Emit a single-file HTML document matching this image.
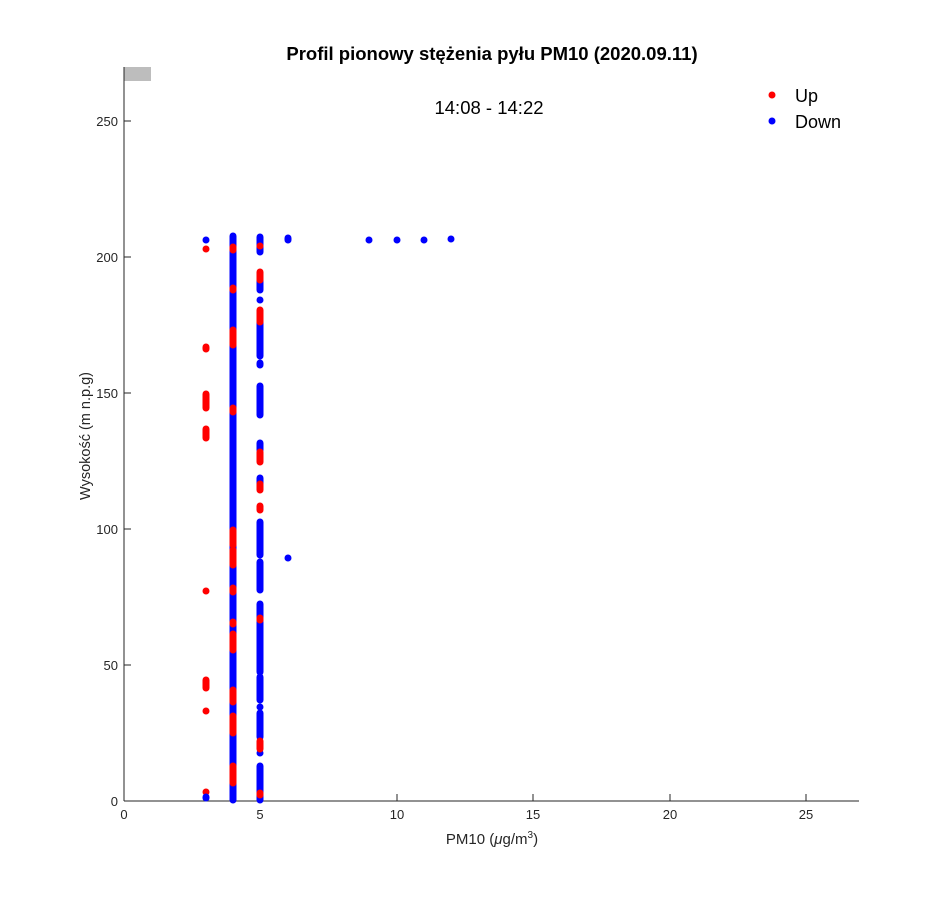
<!DOCTYPE html>
<html><head><meta charset="utf-8"><style>
body{margin:0;background:#fff;}
svg{display:block;font-family:"Liberation Sans",sans-serif;}
</style></head><body>
<svg width="950" height="900" viewBox="0 0 950 900" xmlns="http://www.w3.org/2000/svg">
<rect width="950" height="900" fill="#fff"/>
<rect x="124" y="67" width="27" height="14" fill="#bdbdbd"/>
<g stroke="#262626" stroke-width="1" fill="none">
<line x1="124" y1="67" x2="124" y2="801"/>
<line x1="124" y1="801" x2="859" y2="801"/>
<line x1="124" y1="121" x2="131" y2="121"/>
<line x1="124" y1="257" x2="131" y2="257"/>
<line x1="124" y1="393" x2="131" y2="393"/>
<line x1="124" y1="529" x2="131" y2="529"/>
<line x1="124" y1="665" x2="131" y2="665"/>
<line x1="260" y1="801" x2="260" y2="794"/>
<line x1="397" y1="801" x2="397" y2="794"/>
<line x1="533" y1="801" x2="533" y2="794"/>
<line x1="670" y1="801" x2="670" y2="794"/>
<line x1="806" y1="801" x2="806" y2="794"/>
</g>
<g fill="#262626" font-size="13" text-anchor="end">
<text x="118" y="126">250</text><text x="118" y="262">200</text><text x="118" y="398">150</text>
<text x="118" y="534">100</text><text x="118" y="670">50</text><text x="118" y="806">0</text>
</g>
<g fill="#262626" font-size="13" text-anchor="middle">
<text x="124" y="819">0</text><text x="260" y="819">5</text><text x="397" y="819">10</text>
<text x="533" y="819">15</text><text x="670" y="819">20</text><text x="806" y="819">25</text>
</g>
<text x="492" y="844" font-size="15" fill="#262626" text-anchor="middle">PM10 (<tspan font-style="italic">μ</tspan>g/m<tspan dy="-6" font-size="10">3</tspan><tspan dy="6">)</tspan></text>
<text transform="translate(90,436) rotate(-90)" font-size="14.5" fill="#262626" text-anchor="middle">Wysokość (m n.p.g)</text>
<text x="492" y="60" font-size="18.5" font-weight="bold" text-anchor="middle">Profil pionowy stężenia pyłu PM10 (2020.09.11)</text>
<text x="489" y="114" font-size="18.5" text-anchor="middle">14:08 - 14:22</text>
<circle cx="772" cy="95" r="3.5" fill="#f00"/><text x="795" y="102" font-size="18">Up</text>
<circle cx="772" cy="121" r="3.5" fill="#00f"/><text x="795" y="128" font-size="18">Down</text>
<g stroke-linecap="round" stroke-width="7">
<g stroke="#f00">
<line x1="206" y1="249" x2="206" y2="249"/><line x1="206" y1="347" x2="206" y2="349"/>
<line x1="206" y1="394" x2="206" y2="408"/><line x1="206" y1="429" x2="206" y2="438"/>
<line x1="206" y1="591" x2="206" y2="591"/><line x1="206" y1="680" x2="206" y2="688"/>
<line x1="206" y1="711" x2="206" y2="711"/><line x1="206" y1="792" x2="206" y2="792"/>
</g>
<g stroke="#00f"><line x1="206" y1="240" x2="206" y2="240"/><line x1="206" y1="797" x2="206" y2="798"/></g>
<line x1="233" y1="236" x2="233" y2="800" stroke="#00f"/>
<g stroke="#f00">
<line x1="233" y1="247" x2="233" y2="250"/><line x1="233" y1="288" x2="233" y2="290"/>
<line x1="233" y1="330" x2="233" y2="345"/><line x1="233" y1="408" x2="233" y2="412"/>
<line x1="233" y1="530" x2="233" y2="545"/><line x1="233" y1="550" x2="233" y2="565"/>
<line x1="233" y1="588" x2="233" y2="592"/><line x1="233" y1="622" x2="233" y2="624"/>
<line x1="233" y1="634" x2="233" y2="650"/><line x1="233" y1="690" x2="233" y2="702"/>
<line x1="233" y1="716" x2="233" y2="733"/><line x1="233" y1="766" x2="233" y2="783"/>
</g>
<g stroke="#00f">
<line x1="260" y1="237" x2="260" y2="252"/><line x1="260" y1="280" x2="260" y2="290"/>
<line x1="260" y1="300" x2="260" y2="300"/><line x1="260" y1="320" x2="260" y2="356"/>
<line x1="260" y1="363" x2="260" y2="365"/><line x1="260" y1="386" x2="260" y2="415"/>
<line x1="260" y1="443" x2="260" y2="450"/><line x1="260" y1="478" x2="260" y2="484"/>
<line x1="260" y1="522" x2="260" y2="555"/><line x1="260" y1="562" x2="260" y2="590"/>
<line x1="260" y1="604" x2="260" y2="620"/><line x1="260" y1="622" x2="260" y2="672"/>
<line x1="260" y1="677" x2="260" y2="700"/><line x1="260" y1="707" x2="260" y2="707"/>
<line x1="260" y1="713" x2="260" y2="737"/><line x1="260" y1="753" x2="260" y2="753"/>
<line x1="260" y1="766" x2="260" y2="800"/>
</g>
<g stroke="#f00">
<line x1="260" y1="246" x2="260" y2="246"/><line x1="260" y1="272" x2="260" y2="280"/>
<line x1="260" y1="310" x2="260" y2="322"/><line x1="260" y1="452" x2="260" y2="462"/>
<line x1="260" y1="484" x2="260" y2="490"/><line x1="260" y1="506" x2="260" y2="510"/>
<line x1="260" y1="618" x2="260" y2="620"/><line x1="260" y1="741" x2="260" y2="749"/>
<line x1="260" y1="793" x2="260" y2="795"/>
</g>
<g stroke="#00f">
<line x1="288" y1="238" x2="288" y2="240"/><line x1="288" y1="558" x2="288" y2="558"/>
<line x1="369" y1="240" x2="369" y2="240"/><line x1="397" y1="240" x2="397" y2="240"/>
<line x1="424" y1="240" x2="424" y2="240"/><line x1="451" y1="239" x2="451" y2="239"/>
</g>
</g>
</svg>
</body></html>
